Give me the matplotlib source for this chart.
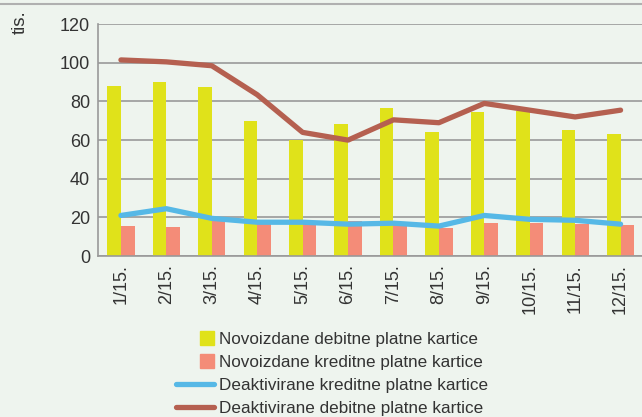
import matplotlib.pyplot as plt
import numpy as np
from matplotlib.legend_handler import HandlerPatch
from matplotlib.patches import Rectangle, Patch
from matplotlib.lines import Line2D

plt.rcParams["font.family"] = ["Liberation Sans", "DejaVu Sans"]

months = ["1/15.", "2/15.", "3/15.", "4/15.", "5/15.", "6/15.",
          "7/15.", "8/15.", "9/15.", "10/15.", "11/15.", "12/15."]
debit_new = [88, 90, 87.5, 70, 60, 68.5, 76.5, 64, 74.5, 75, 65, 63]
credit_new = [15.5, 15, 18.5, 17, 17, 18, 16, 14.5, 17, 17, 16.5, 16]
credit_deact = [21, 24.5, 19.5, 17.5, 17.5, 16.5, 17, 15.5, 21, 19, 18.5, 16.5]
debit_deact = [101.5, 100.5, 98.5, 83.5, 64, 60, 70.5, 69, 79, 75.5, 72, 75.5]

bg = "#eef4ee"
text_col = "#333333"
grid_col = "#999999"

fig = plt.figure(figsize=(6.42, 4.17), dpi=100, facecolor=bg)
ax = fig.add_axes([0.153, 0.386, 0.849, 0.556], facecolor=bg)

x = np.arange(len(months))
w = 0.3
ax.bar(x - w / 2, debit_new, w, color="#e0e21a", zorder=2)
ax.bar(x + w / 2, credit_new, w, color="#f48c78", zorder=2)
ax.plot(x, credit_deact, color="#56b8e6", lw=3.8, zorder=3,
        solid_capstyle="round", solid_joinstyle="round")
ax.plot(x, debit_deact, color="#b56050", lw=3.8, zorder=3,
        solid_capstyle="round", solid_joinstyle="round")

ax.set_xlim(-0.5, 11.5)
ax.set_ylim(0, 120)
ax.set_yticks(range(0, 121, 20))
ax.set_xticks(x)
ax.set_xticklabels(months, rotation=90)
ax.tick_params(axis="both", length=0, labelsize=13, colors=text_col)
ax.tick_params(axis="y", pad=6)
ax.tick_params(axis="x", pad=6)
ax.grid(axis="y", color=grid_col, lw=1.2, zorder=0)
for s in ["top", "right"]:
    ax.spines[s].set_visible(False)
for s in ["left", "bottom"]:
    ax.spines[s].set_color(grid_col)
    ax.spines[s].set_linewidth(1.2)

# thin rule across the top of the figure
fig.add_artist(Line2D([0, 1], [0.99, 0.99], color="#b0b0b0", lw=1.5,
                      transform=fig.transFigure))
fig.text(0.031, 0.976, "tis.", rotation=90, va="top", ha="center",
         fontsize=13.5, color=text_col)


def square_patch(legend, orig_handle, xdescent, ydescent, width, height, fontsize):
    sq = 10
    return Rectangle((-xdescent + width - sq, -ydescent + (height - sq) / 2), sq, sq)


handles = [
    Patch(color="#e0e21a"),
    Patch(color="#f48c78"),
    Line2D([], [], color="#56b8e6", lw=3.8, solid_capstyle="round"),
    Line2D([], [], color="#b56050", lw=3.8, solid_capstyle="round"),
]
labels = ["Novoizdane debitne platne kartice",
          "Novoizdane kreditne platne kartice",
          "Deaktivirane kreditne platne kartice",
          "Deaktivirane debitne platne kartice"]
leg = fig.legend(handles, labels, loc="upper left", bbox_to_anchor=(0.274, 0.203),
                 frameon=False, fontsize=12.3, handlelength=2.25, handletextpad=0.3,
                 labelspacing=0.47, borderpad=0, borderaxespad=0,
                 handler_map={Patch: HandlerPatch(patch_func=square_patch)})
for t in leg.get_texts():
    t.set_color(text_col)

fig.savefig("out.png", dpi=100, facecolor=bg)
